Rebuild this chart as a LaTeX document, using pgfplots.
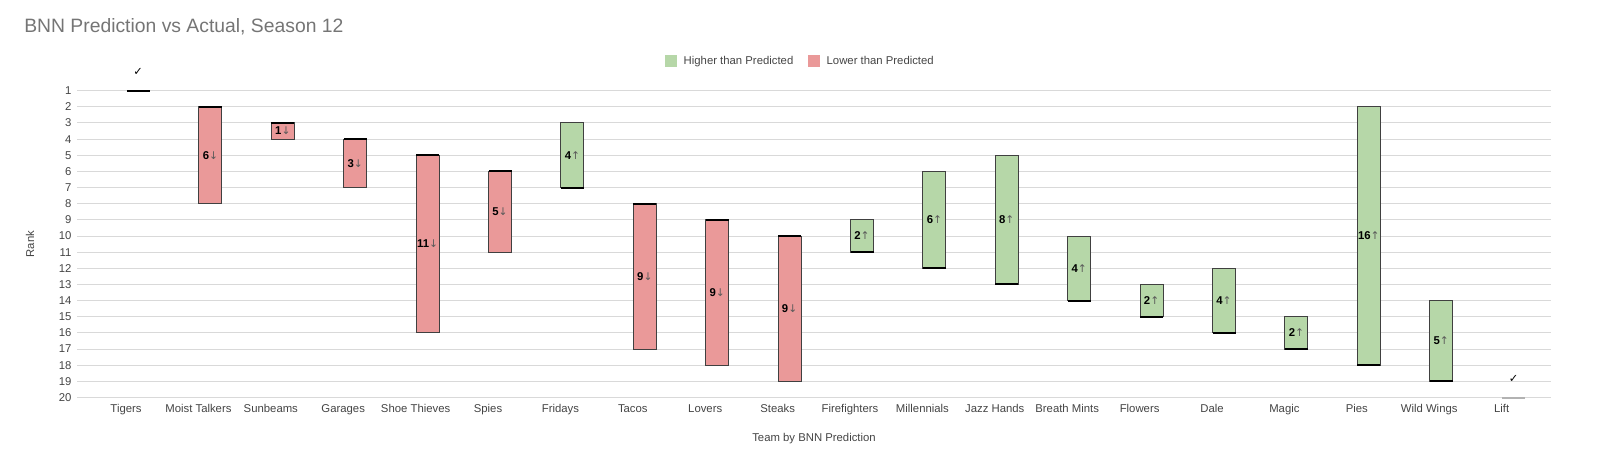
\documentclass[border=0pt]{standalone}
\usepackage{pgfplots}
\pgfplotsset{compat=1.18}
\usepackage{fontspec}
\setmainfont{Liberation Sans}
\newfontfamily\dejavu{DejaVu Sans}

\definecolor{upgreen}{HTML}{B6D7A8}
\definecolor{downred}{HTML}{EA9999}
\definecolor{txt}{HTML}{444444}
\definecolor{ttl}{HTML}{757575}
\definecolor{gridc}{HTML}{D9D9D9}

\pgfplotsset{
  rankaxis/.style={
    at={(57.75pt,52.125pt)}, anchor=south west,
    scale only axis, width=1105.5pt, height=230.1pt,
    xmin=-0.843, xmax=19.517, ymin=1, ymax=20, y dir=reverse,
  },
}

\begin{document}
\begin{tikzpicture}
% bars: invisible base, then rise (green) and fall (red)
\begin{axis}[rankaxis,
  ybar stacked, bar width=17.25pt,
  ytick={1,...,20},
  xtick={0,...,19},
  xticklabels={Tigers,Moist Talkers,Sunbeams,Garages,Shoe Thieves,Spies,Fridays,Tacos,Lovers,Steaks,Firefighters,Millennials,Jazz Hands,Breath Mints,Flowers,Dale,Magic,Pies,Wild Wings,Lift},
  ymajorgrids, grid style={gridc, line width=0.75pt},
  major tick length=0pt,
  axis line style={draw=none},
  tick label style={font=\fontsize{8.5}{10}\selectfont, text=txt},
  /pgf/number format/assume math mode=true,
  xticklabel style={xshift=-9pt, yshift=-1.5pt},
  yticklabel style={xshift=-0.6pt},
  xlabel={Team by BNN Prediction}, ylabel={Rank},
  label style={font=\fontsize{8.5}{10}\selectfont, text=txt},
  xlabel style={at={(axis description cs:0.5,0)}, anchor=base, yshift=-33pt},
  ylabel style={at={(axis description cs:-0.0319,0.5)}, anchor=center},
  title={BNN Prediction vs Actual, Season 12},
  title style={at={(axis description cs:0,1)}, anchor=base west, inner sep=0pt,
    xshift=-39.75pt, yshift=38pt,
    font=\fontsize{14.5}{17}\selectfont, text=ttl},
]
\addplot[draw=none, fill=none] coordinates {
  (1,2)(2,3)(3,4)(4,5)(5,6)(6,3)(7,8)(8,9)(9,10)
  (10,9)(11,6)(12,5)(13,10)(14,13)(15,12)(16,15)(17,2)(18,14)
};
\addplot[fill=upgreen, draw=black!75, line width=0.75pt] coordinates {
  (1,0)(2,0)(3,0)(4,0)(5,0)(6,4)(7,0)(8,0)(9,0)
  (10,2)(11,6)(12,8)(13,4)(14,2)(15,4)(16,2)(17,16)(18,5)
};
\addplot[fill=downred, draw=black!75, line width=0.75pt] coordinates {
  (1,6)(2,1)(3,3)(4,11)(5,5)(6,0)(7,9)(8,9)(9,9)
  (10,0)(11,0)(12,0)(13,0)(14,0)(15,0)(16,0)(17,0)(18,0)
};
\end{axis}

% predicted-rank markers, labels and legend
\begin{axis}[rankaxis, hide axis, clip=false,
  legend style={at={(0.491,1.0968)}, anchor=center, draw=none, fill=none,
    font=\fontsize{8.5}{10}\selectfont, text=txt, legend columns=2,
    /tikz/every odd column/.append style={column sep=3pt},
    /tikz/every even column/.append style={column sep=9pt}},
  legend image code/.code={\fill[#1] (0pt,-4.5pt) rectangle (9pt,4.5pt);},
]
\addlegendimage{fill=upgreen, draw=none}
\addlegendentry{Higher than Predicted}
\addlegendimage{fill=downred, draw=none}
\addlegendentry{Lower than Predicted}

\addplot[only marks, mark=-, mark size=8.625pt, mark options={line width=1.5pt, black}] coordinates {
  (0,1)(1,2)(2,3)(3,4)(4,5)(5,6)(6,7)(7,8)(8,9)(9,10)
  (10,11)(11,12)(12,13)(13,14)(14,15)(15,16)(16,17)(17,18)(18,19)
};
\addplot[only marks, mark=-, mark size=8.625pt, mark options={line width=1.5pt, black!30}] coordinates {(19,20)};

\addplot[only marks, mark=none, point meta=explicit symbolic,
  nodes near coords={\textbf{\pgfplotspointmeta}\textcolor{black!65}{\dejavu\fontsize{8}{10}\selectfont ↓}},
  every node near coord/.append style={anchor=center, inner sep=0pt, font=\fontsize{8.5}{10}\selectfont}] coordinates {
  (1,5)[6] (2,3.5)[1] (3,5.5)[3] (4,10.5)[11] (5,8.5)[5]
  (7,12.5)[9] (8,13.5)[9] (9,14.5)[9]
};
\addplot[only marks, mark=none, point meta=explicit symbolic,
  nodes near coords={\textbf{\pgfplotspointmeta}\textcolor{black!65}{\dejavu\fontsize{8}{10}\selectfont ↑}},
  every node near coord/.append style={anchor=center, inner sep=0pt, font=\fontsize{8.5}{10}\selectfont}] coordinates {
  (6,5)[4] (10,10)[2] (11,9)[6] (12,9)[8] (13,12)[4] (14,14)[2]
  (15,14)[4] (16,16)[2] (17,10)[16] (18,16.5)[5]
};
\addplot[only marks, mark=none,
  nodes near coords={\dejavu ✓},
  every node near coord/.append style={anchor=center, yshift=14pt, font=\fontsize{8.5}{10}\selectfont}] coordinates {
  (0,1)(19,20)
};
\end{axis}
\path (0,0) rectangle (1200pt,350.25pt);
\end{tikzpicture}
\end{document}
